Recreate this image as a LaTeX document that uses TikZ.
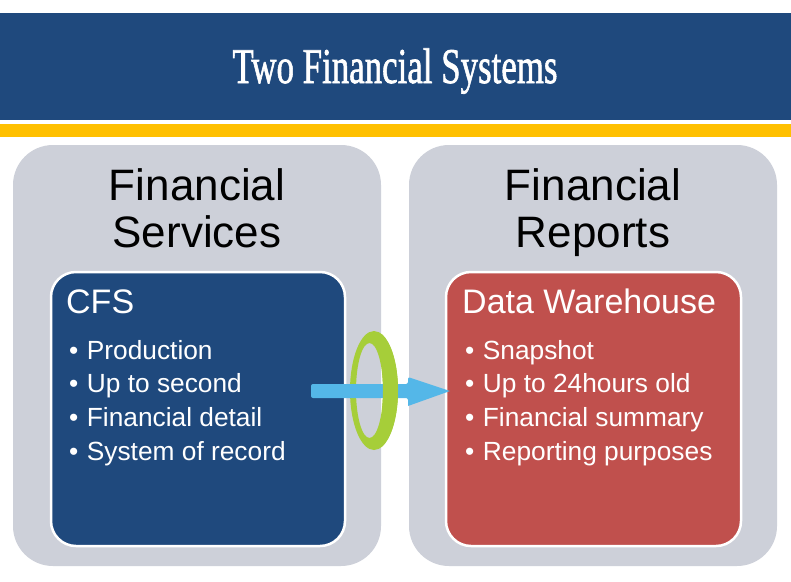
\documentclass[tikz,border=0pt]{standalone}
\usepackage{fontspec}
\setmainfont{Liberation Sans}
\newfontfamily\titlefont[FakeBold=1.5]{Liberation Serif}
\usepackage{graphicx}
\definecolor{navy}{RGB}{31,73,125}
\definecolor{gold}{RGB}{255,192,0}
\definecolor{panel}{RGB}{205,208,217}
\definecolor{brick}{RGB}{192,80,77}
\definecolor{sky}{RGB}{84,183,232}
\definecolor{lime}{RGB}{166,206,57}
\tikzset{
  panelbox/.style={fill=panel, rounded corners=40pt},
  innerbox/.style={draw=white, line width=2.5pt, rounded corners=25pt},
  headtxt/.style={align=center, font=\fontsize{44}{47}\selectfont, text=black, inner sep=0pt},
  boxtitle/.style={anchor=base west, font=\fontsize{34}{40}\selectfont, text=white, inner sep=0pt},
  bullet/.style={anchor=base west, font=\fontsize{26.3}{30}\selectfont, text=white, inner sep=0pt},
}
\begin{document}
\begin{tikzpicture}[x=1pt,y=-1pt]
\useasboundingbox (0,0) rectangle (791,581);
\fill[white] (0,0) rectangle (791,581);
% header
\fill[navy] (0,13) rectangle (791,120);
\fill[gold] (0,124) rectangle (791,137);
\node[anchor=base, text=white, inner sep=0pt] (title) at (395,83)
  {\resizebox{325pt}{\height}{\titlefont\fontsize{50}{55}\selectfont Two Financial Systems}};
% panels
\fill[panelbox] (13,145) rectangle (381,566);
\fill[panelbox] (409,145) rectangle (777,566);
\node[headtxt, anchor=base] (lhead) at (197,247) {Financial\\Services};
\node[headtxt, anchor=base] (rhead) at (593,247) {Financial\\Reports};
% inner boxes
\filldraw[innerbox, fill=navy] (51,272) rectangle (345,546);
\filldraw[innerbox, fill=brick] (446,272) rectangle (741,546);
\node[boxtitle] (cfs) at (66,313) {CFS};
\node[boxtitle] (dw) at (462,313) {Data Warehouse};
\foreach \t [count=\i] in {Production,Up to second,Financial detail,System of record}{
  \node[bullet] (lb\i) at (69,{359+33.7*(\i-1)}) {\textbullet\hspace{8.5pt}\t};
}
\foreach \t [count=\i] in {Snapshot,Up to 24hours old,Financial summary,Reporting purposes}{
  \node[bullet] (rb\i) at (465,{359+33.7*(\i-1)}) {\textbullet\hspace{8.5pt}\t};
}
% ring and arrow
\fill[lime, even odd rule] (374,390.5) ellipse [x radius=24, y radius=59.5]
  (369.5,390.5) ellipse [x radius=13.5, y radius=47.5];
\fill[sky, rounded corners=2pt] (311,384) -- (408,384) -- (408,377) [sharp corners] -- (450,391)
  -- (408,406) [rounded corners=2pt] -- (408,398) -- (311,398) -- cycle;
\begin{scope}
\clip (382,300) rectangle (420,480);
\fill[lime, even odd rule] (374,390.5) ellipse [x radius=24, y radius=59.5]
  (369.5,390.5) ellipse [x radius=13.5, y radius=47.5];
\end{scope}
\end{tikzpicture}
\end{document}
